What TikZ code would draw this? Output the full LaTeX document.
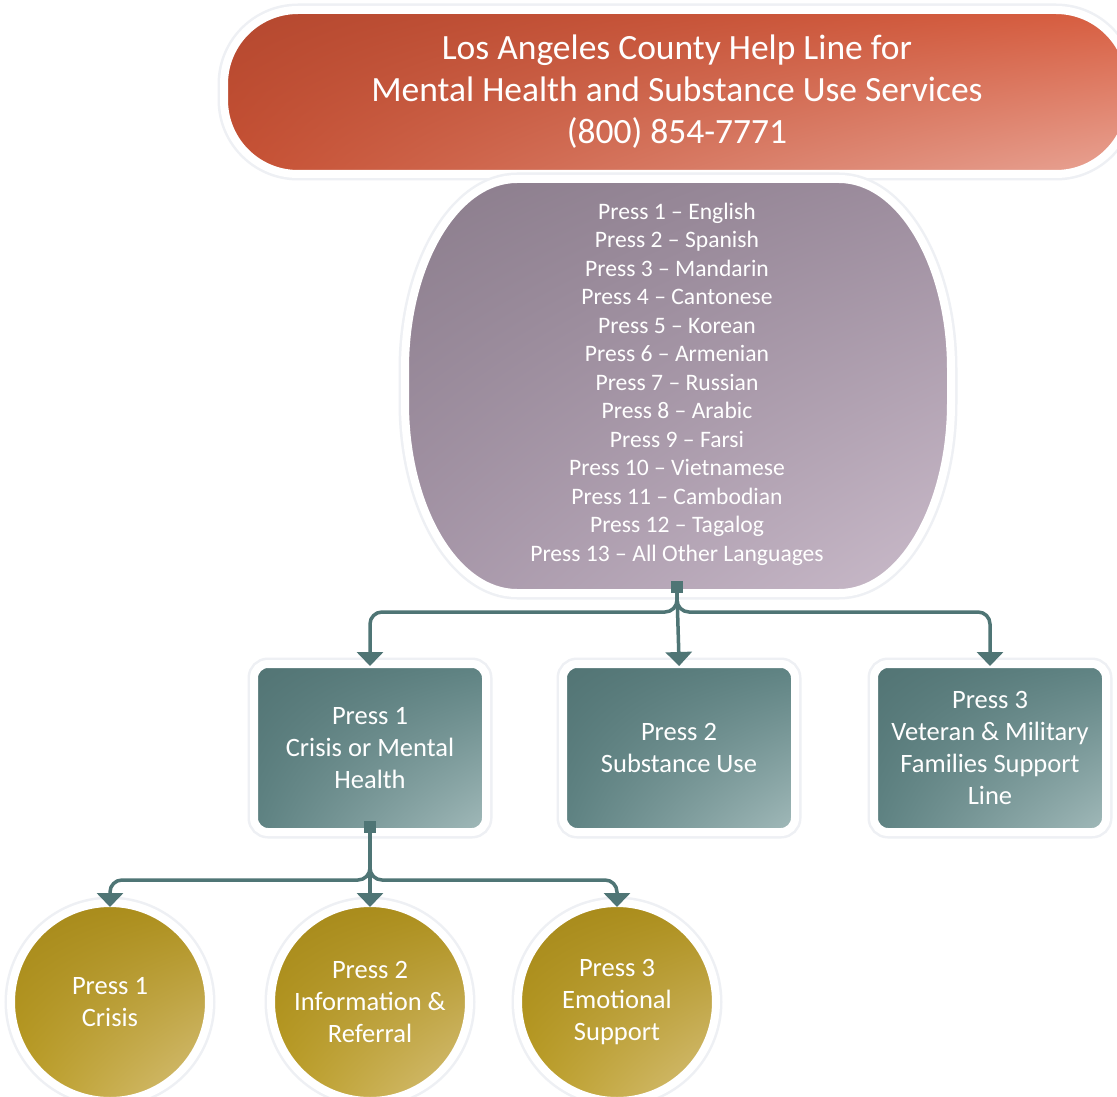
\documentclass[tikz,border=0pt]{standalone}
\usepackage{fontspec}
\setmainfont{Carlito}
\usetikzlibrary{arrows.meta,shadings}
\definecolor{linkc}{HTML}{4F7575}
\definecolor{shadowc}{HTML}{EEF0F4}
\definecolor{bUL}{HTML}{B4482F}
\definecolor{bUR}{HTML}{D85D3F}
\definecolor{bLL}{HTML}{C65033}
\definecolor{bLR}{HTML}{E9A596}
\definecolor{lUL}{HTML}{8B7D8C}
\definecolor{lUR}{HTML}{9D8D9E}
\definecolor{lLL}{HTML}{A696A8}
\definecolor{lLR}{HTML}{CBBCCB}
\definecolor{tUL}{HTML}{527474}
\definecolor{tUR}{HTML}{5E8282}
\definecolor{tLL}{HTML}{5E8282}
\definecolor{tLR}{HTML}{A2BABA}
\definecolor{gUL}{HTML}{A5881A}
\definecolor{gUR}{HTML}{AE901C}
\definecolor{gLL}{HTML}{BA9C22}
\definecolor{gLR}{HTML}{D8C27E}
\tikzset{
  rim/.style={draw=white, line width=8pt, preaction={draw=shadowc, line width=13pt}},
  link/.style={draw=linkc, line width=3.5pt, rounded corners=12pt, shorten >=-6pt, -{Triangle[width=26pt,length=14pt]}},
  junction/.style={fill=linkc, minimum size=12pt, inner sep=0pt, outer sep=0pt},
  wtext/.style={text=white, align=center},
  banner/.style={rim, upper left=bUL, upper right=bUR, lower left=bLL, lower right=bLR,
    rectangle, rounded corners=74pt, minimum width=906pt, minimum height=164pt, inner sep=0pt},
  tealbox/.style={rim, upper left=tUL, upper right=tUR, lower left=tLL, lower right=tLR,
    rectangle, rounded corners=14pt, minimum width=232pt, minimum height=168pt, inner sep=0pt,
    wtext, font=\fontsize{26.5}{32}\selectfont},
  goldcircle/.style={rim, upper left=gUL, upper right=gUR, lower left=gLL, lower right=gLR,
    circle, minimum size=198pt, inner sep=0pt, wtext, font=\fontsize{26.5}{32}\selectfont},
}
\begin{document}
\begin{tikzpicture}[x=1pt,y=-1pt]
\clip (0,0) rectangle (1117,1097);
\fill[white] (0,0) rectangle (1117,1097);

% title banner
\node[banner, wtext, font=\fontsize{35.5}{42}\selectfont] (title) at (677,92)
  {Los Angeles County Help Line for\\Mental Health and Substance Use Services\\(800) 854-7771};

% language shape
\draw[draw=shadowc, line width=13pt]
  (517,179) -- (839,179) .. controls (900.8,179) and (951,264.1) .. (951,369)
  -- (951,403) .. controls (951,507.9) and (900.8,593) .. (839,593)
  -- (517,593) .. controls (455.2,593) and (405,507.9) .. (405,403)
  -- (405,369) .. controls (405,264.1) and (455.2,179) .. (517,179) -- cycle;
\shade[upper left=lUL, upper right=lUR, lower left=lLL, lower right=lLR, draw=white, line width=8pt]
  (517,179) -- (839,179) .. controls (900.8,179) and (951,264.1) .. (951,369)
  -- (951,403) .. controls (951,507.9) and (900.8,593) .. (839,593)
  -- (517,593) .. controls (455.2,593) and (405,507.9) .. (405,403)
  -- (405,369) .. controls (405,264.1) and (455.2,179) .. (517,179) -- cycle;
\node[wtext, font=\fontsize{23.6}{28.5}\selectfont] (lang) at (677,384)
  {Press 1 – English\\Press 2 – Spanish\\Press 3 – Mandarin\\Press 4 – Cantonese\\
   Press 5 – Korean\\Press 6 – Armenian\\Press 7 – Russian\\Press 8 – Arabic\\
   Press 9 – Farsi\\Press 10 – Vietnamese\\Press 11 – Cambodian\\Press 12 – Tagalog\\
   Press 13 – All Other Languages};

% teal boxes
\node[tealbox] (b1) at (370,748) {Press 1\\Crisis or Mental\\Health};
\node[tealbox] (b2) at (679,748) {Press 2\\Substance Use};
\node[tealbox] (b3) at (990,748) {Press 3\\Veteran \& Military\\Families Support\\Line};

% gold circles
\node[goldcircle] (c1) at (110,1002) {Press 1\\Crisis};
\node[goldcircle] (c2) at (370,1002) {Press 2\\Information \&\\Referral};
\node[goldcircle] (c3) at (617,1002) {Press 3\\Emotional\\Support};

% junctions and connectors
\node[junction] (j1) at (677,587) {};
\draw[link] (j1.south) -- ++(0,19) -| (b1.north);
\draw[link] (j1.south) -- ++(0,19) -| (b3.north);
\draw[link] (j1.south) -- (b2.north);

\node[junction] (j2) at (370,827) {};
\draw[link, shorten >=-8pt] (j2.south) -- ++(0,47) -| (c1.north);
\draw[link, shorten >=-8pt] (j2.south) -- ++(0,47) -| (c3.north);
\draw[link, shorten >=-8pt] (j2.south) -- (c2.north);
\end{tikzpicture}
\end{document}
